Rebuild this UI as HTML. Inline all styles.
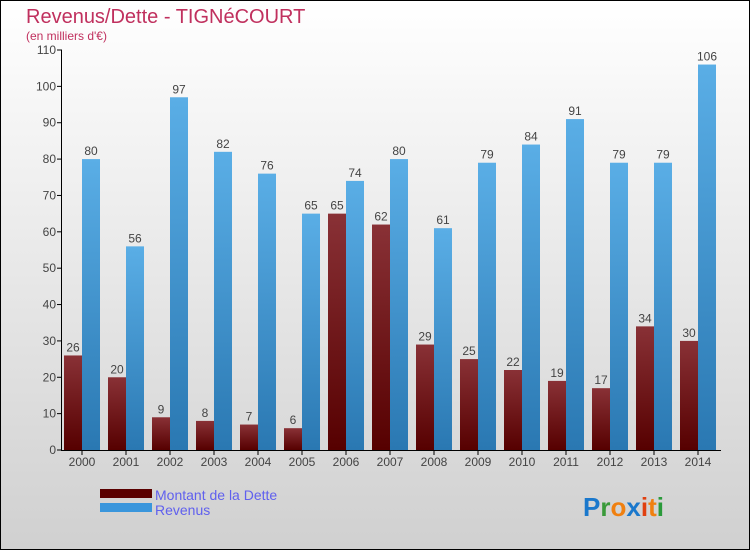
<!DOCTYPE html>
<html><head><meta charset="utf-8"><style>
body{margin:0}
#c{width:750px;height:550px;position:relative;overflow:hidden}
text{font-family:"Liberation Sans",sans-serif}
</style></head><body>
<div id="c">
<svg id="s" width="750" height="550" xmlns="http://www.w3.org/2000/svg">
<defs>
<linearGradient id="bg" x1="0" y1="0" x2="0" y2="1"><stop offset="0" stop-color="#ffffff"/><stop offset="1" stop-color="#d0d0d0"/></linearGradient>
<linearGradient id="gd" x1="0" y1="0" x2="0" y2="1"><stop offset="0" stop-color="#893136"/><stop offset="1" stop-color="#560000"/></linearGradient>
<linearGradient id="gr" x1="0" y1="0" x2="0" y2="1"><stop offset="0" stop-color="#5aaee6"/><stop offset="1" stop-color="#2a78b2"/></linearGradient>
</defs>
<rect x="0.5" y="0.5" width="749" height="549" fill="url(#bg)" stroke="#000"/>
<text x="26" y="23" font-size="20" fill="#c0305e">Revenus/Dette - TIGNéCOURT</text>
<text x="26" y="40" font-size="12" fill="#c0305e">(en milliers d'€)</text>
<g id="plot"></g>
<rect x="100" y="489" width="52" height="9" fill="#5a0000"/>
<rect x="100" y="503" width="52" height="9" fill="#3a96dc"/>
<text x="155" y="500" font-size="14" fill="#6060ee">Montant de la Dette</text>
<text x="155" y="515" font-size="14" fill="#6060ee">Revenus</text>
<g font-size="26" font-weight="bold">
<text x="583" y="516"><tspan fill="#1a78cc">P</tspan><tspan fill="#3a9a3a">r</tspan><tspan fill="#f08010">o</tspan><tspan fill="#1a78cc">x</tspan><tspan fill="#e04010">i</tspan><tspan fill="#f08010">t</tspan><tspan fill="#2a9a3a">i</tspan></text>
</g>
</svg>
</div>
<script>
const years=["2000","2001","2002","2003","2004","2005","2006","2007","2008","2009","2010","2011","2012","2013","2014"];
const debt=[26,20,9,8,7,6,65,62,29,25,22,19,17,34,30];
const revenue=[80,56,97,82,76,65,74,80,61,79,84,91,79,79,106];
const yTicks=[0,10,20,30,40,50,60,70,80,90,100,110];
const NS="http://www.w3.org/2000/svg";
const g=document.getElementById('plot');
const y=v=>450-v*400/110;
const x0=i=>64+44*i;
function mk(t,a){const e=document.createElementNS(NS,t);for(const k in a)e.setAttribute(k,a[k]);g.appendChild(e);return e;}
yTicks.forEach(v=>{
 const l=mk('line',{x1:57,x2:62,y1:y(v),y2:y(v),stroke:'#000'});
 
 
 const t=mk('text',{x:56,y:y(v)+4,'font-size':12,fill:'#444','text-anchor':'end'});
 t.textContent=v;
 
 
});
years.forEach((yr,i)=>{
 const b=mk('rect',{x:x0(i),y:y(debt[i]),width:18,height:450-y(debt[i]),fill:'url(#gd)'});
 
 
 const r=mk('rect',{x:x0(i)+18,y:y(revenue[i]),width:18,height:450-y(revenue[i]),fill:'url(#gr)'});
 
 
 const dl=mk('text',{x:x0(i)+9,y:y(debt[i])-4,'font-size':12,fill:'#444','text-anchor':'middle'});
 dl.textContent=debt[i];
 
 
 const rl=mk('text',{x:x0(i)+27,y:y(revenue[i])-4,'font-size':12,fill:'#444','text-anchor':'middle'});
 rl.textContent=revenue[i];
 
 
 const tk=mk('line',{x1:x0(i)+18,x2:x0(i)+18,y1:450,y2:455,stroke:'#000'});
 
 
 const xl=mk('text',{x:x0(i)+18,y:466,'font-size':12,fill:'#444','text-anchor':'middle'});
 xl.textContent=yr;
 
 
});
const ya=mk('line',{x1:61.5,x2:61.5,y1:50,y2:450,stroke:'#000'});


const xa=mk('line',{x1:61,x2:721,y1:450.5,y2:450.5,stroke:'#000'});


</script>
</body></html>
